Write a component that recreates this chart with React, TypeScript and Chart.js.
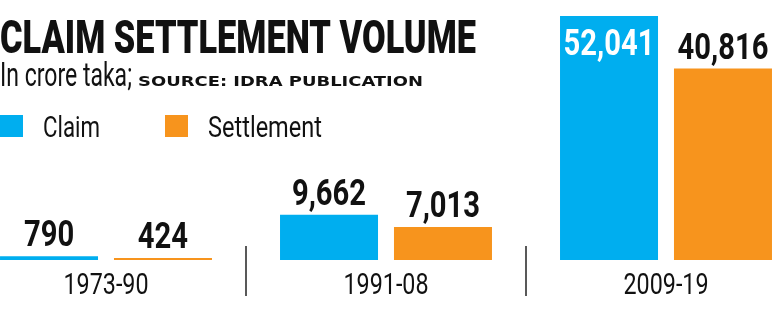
import React, { useEffect, useRef } from "react";
import { Chart, registerables } from "chart.js";

Chart.register(...registerables);

const categories = ["1973-90", "1991-08", "2009-19"];
const claimValues = [790, 9662, 52041];
const settlementValues = [424, 7013, 40816];
const seriesNames = ["Claim", "Settlement"];
const seriesColors = ["#00AEEF", "#F7941D"];
const yMax = 55450;

const title = "CLAIM SETTLEMENT VOLUME";
const subtitle = "In crore taka;";
const source = "SOURCE: IDRA PUBLICATION";

const OX = 34; // canvas x offset of page x=0

function drawFit(ctx: CanvasRenderingContext2D, text: string, x: number, y: number, font: string, width: number, align: CanvasTextAlign = "left") {
  ctx.save();
  ctx.font = font;
  const w = ctx.measureText(text).width;
  const sx = width / w;
  ctx.translate(x, y);
  ctx.scale(sx, 1);
  ctx.textAlign = align;
  ctx.textBaseline = "alphabetic";
  ctx.fillText(text, 0, 0);
  ctx.restore();
}

function drawScaled(ctx: CanvasRenderingContext2D, text: string, x: number, y: number, font: string, sx: number, align: CanvasTextAlign = "center") {
  ctx.save();
  ctx.font = font;
  ctx.translate(x, y);
  ctx.scale(sx, 1);
  ctx.textAlign = align;
  ctx.textBaseline = "alphabetic";
  ctx.fillText(text, 0, 0);
  ctx.restore();
}

const fmt = (v: number) => v.toLocaleString("en-US");

const textPlugin = {
  id: "customTexts",
  afterDatasetsDraw(chart: any) {
    const ctx: CanvasRenderingContext2D = chart.ctx;
    const area = chart.chartArea;
    ctx.save();
    ctx.fillStyle = "#111";
    // header
    drawFit(ctx, title, OX + 0, 53, "900 46px Roboto", 476);
    drawFit(ctx, subtitle, OX + 0, 86, "34px Roboto", 132);
    drawFit(ctx, source, OX + 138, 86, "bold 14px 'DejaVu Sans'", 285);
    // legend
    const legendX = [0, 165];
    const legendW = [57, 114];
    chart.data.datasets.forEach((ds: any, i: number) => {
      ctx.fillStyle = ds.backgroundColor;
      ctx.fillRect(OX + legendX[i], 115, 23, 22);
      ctx.fillStyle = "#111";
      drawFit(ctx, ds.label, OX + legendX[i] + 43, 137, "29.5px Roboto", legendW[i]);
    });
    // value labels
    const vfont = "bold 36.5px Roboto";
    chart.data.datasets.forEach((ds: any, di: number) => {
      const meta = chart.getDatasetMeta(di);
      meta.data.forEach((bar: any, i: number) => {
        const label = fmt(ds.data[i]);
        const outsideTop = bar.y - 10 - 27;
        if (outsideTop < area.top) {
          ctx.fillStyle = "#fff";
          drawScaled(ctx, label, bar.x, bar.y + 39, vfont, 0.8);
        } else {
          ctx.fillStyle = "#111";
          drawScaled(ctx, label, bar.x, bar.y - 10, vfont, 0.8);
        }
      });
    });
    // category labels & separators
    const xs = chart.scales.x;
    ctx.fillStyle = "#111";
    chart.data.labels.forEach((lab: string, i: number) => {
      const cx = xs.getPixelForValue(i);
      drawScaled(ctx, lab, cx, 294, "29.5px Roboto", 0.79);
      if (i < chart.data.labels.length - 1) {
        const sx = (cx + xs.getPixelForValue(i + 1)) / 2;
        ctx.strokeStyle = "#222";
        ctx.lineWidth = 1.5;
        ctx.beginPath();
        ctx.moveTo(sx, 246);
        ctx.lineTo(sx, 296);
        ctx.stroke();
      }
    });
    ctx.restore();
  },
};

export default function App() {
  const ref = useRef<HTMLCanvasElement | null>(null);
  useEffect(() => {
    if (!ref.current) return;
    const chart = new Chart(ref.current, {
      type: "bar",
      data: {
        labels: categories,
        datasets: [
          { label: seriesNames[0], data: claimValues, backgroundColor: seriesColors[0], borderWidth: 0 },
          { label: seriesNames[1], data: settlementValues, backgroundColor: seriesColors[1], borderWidth: 0 },
        ],
      },
      options: {
        responsive: false,
        animation: false,
        devicePixelRatio: 1,
        layout: { padding: { top: 0, bottom: 50, left: 0, right: 0 } },
        datasets: { bar: { categoryPercentage: 0.814, barPercentage: 0.86 } },
        scales: {
          x: { display: false },
          y: { display: false, min: 0, max: yMax },
        },
        plugins: { legend: { display: false }, tooltip: { enabled: false } },
      },
      plugins: [textPlugin],
    } as any);
    return () => chart.destroy();
  }, []);
  return (
    <div style={{ position: "fixed", left: 0, top: 0, width: 773, height: 310, overflow: "hidden", background: "#fff" }}>
      <canvas ref={ref} width={840} height={310} style={{ position: "absolute", left: -OX, top: 0, width: 840, height: 310 }} />
    </div>
  );
}
